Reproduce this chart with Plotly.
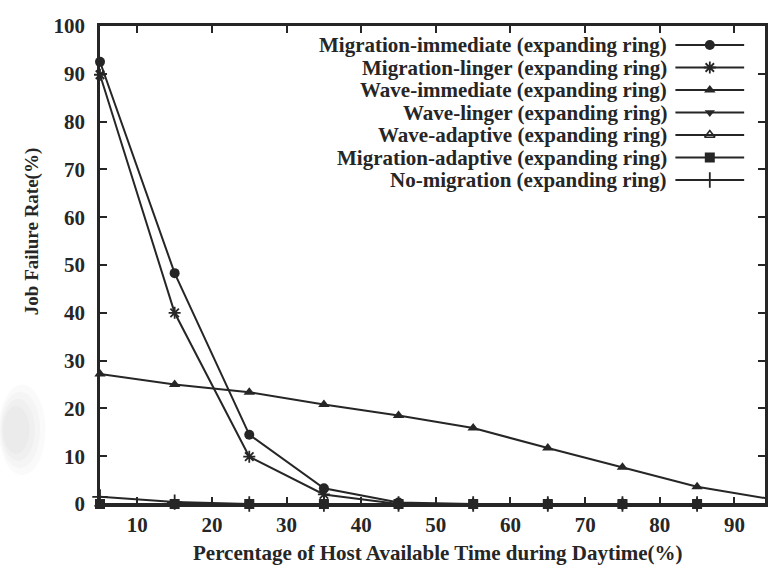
import plotly.graph_objects as go

# Percentage of host available time during daytime (%)
avail_time = [5, 15, 25, 35, 45, 55, 65, 75, 85, 95]

# Job failure rate (%) for each policy, expanding-ring discovery
mig_immediate = [92.5, 48.3, 14.5, 3.3, 0.3, 0, 0, 0, 0, 0]
mig_linger = [89.8, 40.0, 9.9, 2.0, 0, 0, 0, 0, 0, 0]
wave_immediate = [27.2, 25.0, 23.4, 20.8, 18.5, 15.9, 11.7, 7.7, 3.6, 1.0]
wave_linger = [0, 0, 0, 0, 0, 0, 0, 0, 0, 0]
wave_adaptive = [0, 0, 0, 0, 0, 0, 0, 0, 0, 0]
mig_adaptive = [0, 0, 0, 0, 0, 0, 0, 0, 0, 0]
no_migration = [1.5, 0.4, 0, 0, 0, 0, 0, 0, 0, 0]

series_names = [
    "Migration-immediate (expanding ring)",
    "Migration-linger (expanding ring)",
    "Wave-immediate (expanding ring)",
    "Wave-linger (expanding ring)",
    "Wave-adaptive (expanding ring)",
    "Migration-adaptive (expanding ring)",
    "No-migration (expanding ring)",
]
series_values = [mig_immediate, mig_linger, wave_immediate, wave_linger,
                 wave_adaptive, mig_adaptive, no_migration]

x_ticks = [10, 20, 30, 40, 50, 60, 70, 80, 90]
y_ticks = [0, 10, 20, 30, 40, 50, 60, 70, 80, 90, 100]

INK = "#262626"
FONT = "Liberation Serif"
WEIGHT = "bold"

# marker style per series: (symbol, size, outline width)
styles = [
    ("circle", 10, 0),
    ("asterisk-open", 10, 1.8),
    ("triangle-up", 10, 0),
    ("triangle-down", 9, 0),
    ("triangle-up-open", 9, 1.6),
    ("square", 10, 0),
    ("cross-thin-open", 11, 1.8),
]

fig = go.Figure()

for name, vals, (sym, size, lw) in zip(series_names, series_values, styles):
    fig.add_trace(go.Scatter(
        x=avail_time, y=vals, mode="lines+markers", name=name,
        line=dict(color=INK, width=2),
        marker=dict(symbol=sym, size=size, color=INK,
                    line=dict(color=INK, width=lw)),
        showlegend=False, cliponaxis=False,
    ))

# Legend keys: short line with a marker in the middle, text to the left
for i, (name, (sym, size, lw)) in enumerate(zip(series_names, styles)):
    fig.add_trace(go.Scatter(
        x=[0, 1], y=[i, i], mode="lines", xaxis="x2", yaxis="y2",
        line=dict(color=INK, width=2), showlegend=False, hoverinfo="skip",
    ))
    fig.add_trace(go.Scatter(
        x=[0.5], y=[i], mode="markers", xaxis="x2", yaxis="y2",
        marker=dict(symbol=sym, size=size, color=INK,
                    line=dict(color=INK, width=lw)),
        showlegend=False, hoverinfo="skip",
    ))
    fig.add_annotation(
        x=0, y=i, xref="x2", yref="y2", text=name, showarrow=False,
        xanchor="right", yanchor="middle", xshift=-6,
        font=dict(family=FONT, size=21, color=INK, weight=WEIGHT),
    )

axis_common = dict(
    showline=True, linecolor=INK, linewidth=2.5, mirror="ticks",
    ticks="inside", ticklen=7, tickwidth=1.8, tickcolor=INK,
    showgrid=False, zeroline=False,
    tickfont=dict(family=FONT, size=21, color=INK, weight=WEIGHT),
)

fig.update_layout(
    width=768, height=571,
    margin=dict(l=100, r=0, t=26, b=67),
    paper_bgcolor="white", plot_bgcolor="rgba(0,0,0,0)",
    xaxis=dict(range=[5, 94.1], tickvals=x_ticks, ticklabelstandoff=0,
               **axis_common),
    yaxis=dict(range=[0, 100], tickvals=y_ticks, ticklabelstandoff=8,
               **axis_common),
    # legend-key box: rows one unit apart, 22.5 px each
    xaxis2=dict(domain=[0.865, 0.969], range=[0, 1], visible=False,
                anchor="y2", fixedrange=True),
    yaxis2=dict(domain=[0.6, 1], range=[7.65, -0.844], visible=False,
                anchor="x2", fixedrange=True),
)

# Axis titles
fig.add_annotation(
    x=0.509, y=-0.103, xref="paper", yref="paper", showarrow=False,
    text="Percentage of Host Available Time during Daytime(%)",
    xanchor="center", yanchor="middle",
    font=dict(family=FONT, size=21, color=INK, weight=WEIGHT),
)
fig.add_annotation(
    x=-0.102, y=0.569, xref="paper", yref="paper", showarrow=False,
    text="Job Failure Rate(%)", textangle=-90,
    xanchor="center", yanchor="middle",
    font=dict(family=FONT, size=19, color=INK, weight=WEIGHT),
)

# faint grey smudge in the left margin
for (x0, x1, y0, y1, op) in [(-0.152, -0.082, 0.06, 0.25, 0.04),
                             (-0.15, -0.09, 0.075, 0.235, 0.04),
                             (-0.148, -0.098, 0.09, 0.22, 0.04),
                             (-0.146, -0.106, 0.105, 0.205, 0.04)]:
    fig.add_shape(type="circle", xref="paper", yref="paper",
                  x0=x0, x1=x1, y0=y0, y1=y1,
                  fillcolor="#8a8a8a", opacity=op, line=dict(width=0),
                  layer="below")

fig.write_html("out.html")
